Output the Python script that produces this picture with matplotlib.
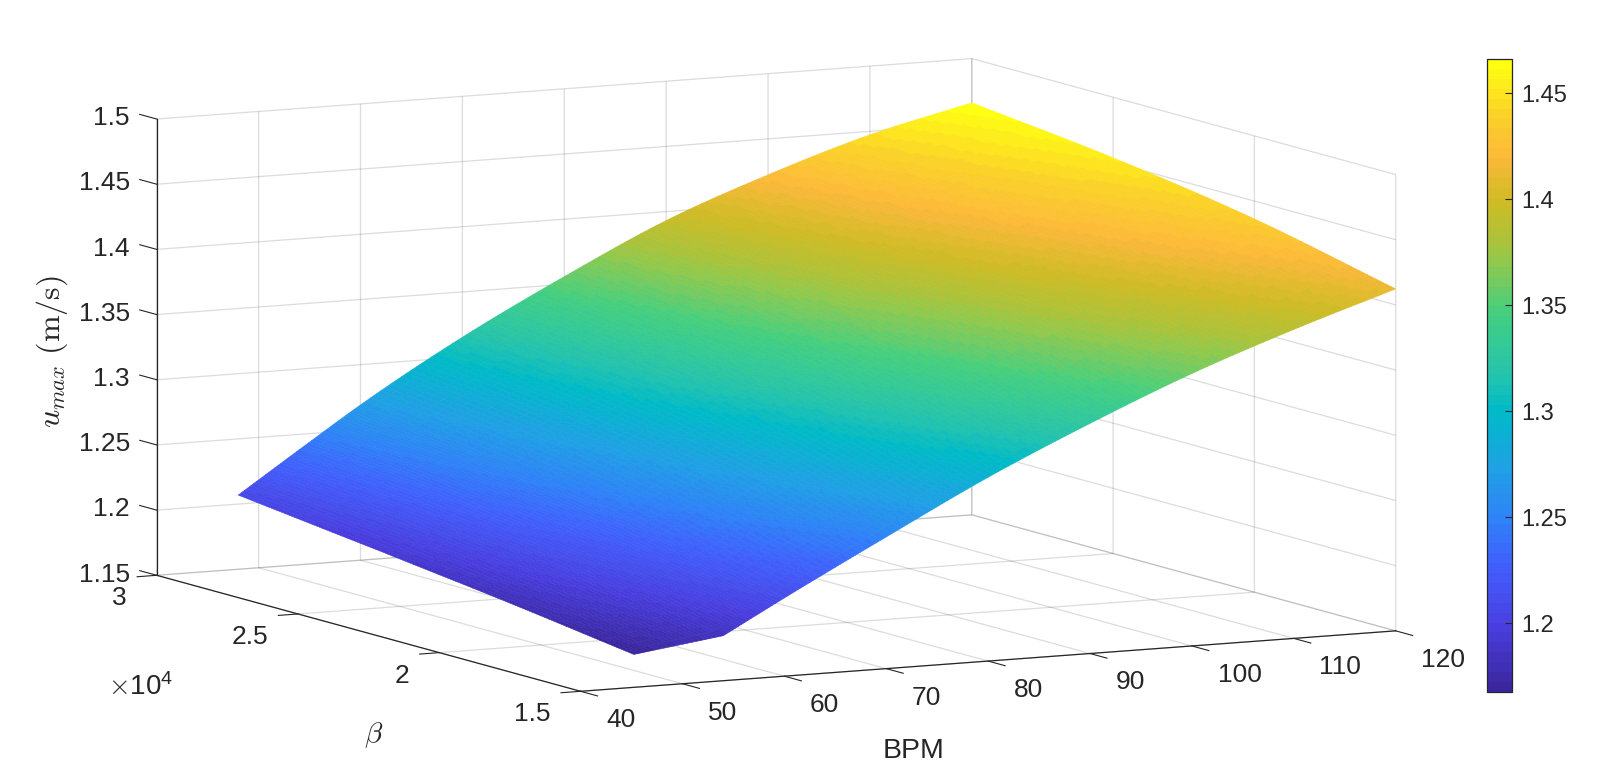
import numpy as np
import matplotlib
matplotlib.use("Agg")
import matplotlib.pyplot as plt
from matplotlib.colors import LinearSegmentedColormap, Normalize
from matplotlib.cm import ScalarMappable
from matplotlib.transforms import ScaledTranslation
from mpl_toolkits.mplot3d import proj3d

# ---- data ----
bpm_cols = [48, 54, 60, 70, 80, 90, 100, 110, 120]
beta_rows = [1.5e4, 2.0e4, 2.5e4, 3.0e4]
beta_first_col = [1.6e4, 2.05e4, 2.5e4, 3.0e4]
u_beta_15 = [1.1677, 1.1845, 1.2100, 1.2510, 1.2910, 1.3265, 1.3590, 1.3870, 1.4123]
u_beta_20 = [1.1814, 1.2093, 1.2364, 1.2796, 1.3201, 1.3563, 1.3873, 1.4138, 1.4363]
u_beta_25 = [1.1938, 1.2274, 1.2560, 1.3009, 1.3417, 1.3784, 1.4085, 1.4338, 1.4535]
u_beta_30 = [1.2069, 1.2383, 1.2691, 1.3152, 1.3559, 1.3931, 1.4224, 1.4473, 1.4660]

x_ticks = [40, 50, 60, 70, 80, 90, 100, 110, 120]
y_ticks = [1.5e4, 2e4, 2.5e4, 3e4]
y_ticklabels = ["1.5", "2", "2.5", "3"]
z_ticks = [1.15, 1.2, 1.25, 1.3, 1.35, 1.4, 1.45, 1.5]
z_ticklabels = ["1.15", "1.2", "1.25", "1.3", "1.35", "1.4", "1.45", "1.5"]
cbar_ticks = [1.2, 1.25, 1.3, 1.35, 1.4, 1.45]
cbar_labels = ["1.2", "1.25", "1.3", "1.35", "1.4", "1.45"]
c_min, c_max = 1.1677, 1.4661

cmap_pos = [0, .10, .20, .27, .35, .443, .50, .60, .68, .72, .78, .85, .92, 1]
cmap_col = ["#3a27a0", "#4a3fe0", "#4061fd", "#2f82f7", "#20a0e5", "#00bac8", "#25c3ac",
            "#44cf80", "#8fc94f", "#aec237", "#cfbb24", "#fcb93a", "#fbd228", "#ffff10"]

W, H = 1600, 776
plt.rcParams["font.family"] = ["Liberation Sans", "DejaVu Sans"]
plt.rcParams["mathtext.fontset"] = "cm"
INK = "#262626"
GRID = (0.15, 0.15, 0.15, 0.16)

fig = plt.figure(figsize=(W / 100, H / 100), dpi=100)
ax = fig.add_axes([0, (H - W) / 2 / H, 1, W / H], projection="3d", proj_type="ortho")
ax.patch.set_alpha(0)
ax.view_init(elev=8.19, azim=-117.5)
ax.set_xlim(40, 120, view_margin=0)
ax.set_ylim(1.5e4, 3e4, view_margin=0)
ax.set_zlim(1.15, 1.5, view_margin=0)
aspect = (919, 918, 461)

cmap = LinearSegmentedColormap.from_list("par", list(zip(cmap_pos, cmap_col)), N=64)
norm = Normalize(c_min, c_max)


# shading-interp style subdivision of each table cell, as the original renderer does:
# positions are straight within a cell, the height runs smoothly through the readings
def subdivide_linear(M, nr=15, nc=20):
    M = np.asarray(M, float)
    rr = np.linspace(0, M.shape[0] - 1, (M.shape[0] - 1) * nr + 1)
    cc = np.linspace(0, M.shape[1] - 1, (M.shape[1] - 1) * nc + 1)
    A = np.array([np.interp(cc, np.arange(M.shape[1]), row) for row in M])
    return np.array([np.interp(rr, np.arange(M.shape[0]), col) for col in A.T]).T


def hermite(v, b, n):
    v = np.asarray(v, float)
    b = np.asarray(b, float)
    s = np.gradient(v, b)
    t = np.linspace(0, 1, n, endpoint=False)
    out = []
    for i in range(len(v) - 1):
        h = b[i + 1] - b[i]
        out.extend((2 * t**3 - 3 * t**2 + 1) * v[i] + (t**3 - 2 * t**2 + t) * h * s[i]
                   + (-2 * t**3 + 3 * t**2) * v[i + 1] + (t**3 - t**2) * h * s[i + 1])
    out.append(v[-1])
    return np.array(out)


def smooth_row(vals, nc=20):
    v = np.asarray(vals, float)
    first = np.linspace(v[0], v[1], nc, endpoint=False)
    return np.concatenate([first, hermite(v[1:], bpm_cols[1:], nc)])


U = np.array([smooth_row(r) for r in (u_beta_15, u_beta_20, u_beta_25, u_beta_30)])
BP = np.tile(bpm_cols, (len(beta_rows), 1)).astype(float)
BE = np.tile(np.array(beta_rows)[:, None], (1, len(bpm_cols))).astype(float)
BE[:, 0] = beta_first_col
X, Y = subdivide_linear(BP), subdivide_linear(BE)
Z = np.array([hermite(c, beta_rows, 15) for c in U.T]).T
surf = ax.plot_surface(X, Y, Z, rcount=Z.shape[0], ccount=Z.shape[1], cmap=cmap, norm=norm,
                       linewidth=0.4, antialiased=True, shade=False)
surf.set_edgecolor("face")

ax.set_xticks(x_ticks)
ax.set_xticklabels([str(v) for v in x_ticks], ha="left")
ax.set_yticks(y_ticks)
ax.set_yticklabels(y_ticklabels, ha="right")
ax.set_zticks(z_ticks)
ax.set_zticklabels(z_ticklabels, ha="right")
ax.tick_params(labelsize=19, labelcolor=INK, color=INK, width=0.8)

for a in (ax.xaxis, ax.yaxis, ax.zaxis):
    a.set_pane_color((1, 1, 1, 0))
    a.pane.set_edgecolor((1, 1, 1, 0))
    a.line.set_color(INK)
    a.line.set_linewidth(0.9)
    a._axinfo["grid"].update(color=GRID, linewidth=0.9, linestyle="-")
    a._axinfo["tick"]["inward_factor"] = 0.0
ax.zaxis.set_ticks_position("upper")
ax.zaxis._get_tickdir = lambda pos: 1
ax.xaxis._axinfo["tick"]["outward_factor"] = -0.5
ax.yaxis._axinfo["tick"]["outward_factor"] = -0.3
ax.zaxis._axinfo["tick"]["outward_factor"] = 0.5


def shift_labels(axis, dx, dy):
    orig = axis.get_major_ticks
    off = ScaledTranslation(dx / 100, -dy / 100, fig.dpi_scale_trans)

    def patched(numticks=None):
        ticks = orig(numticks)
        for t in ticks:
            t.label1.set_transform(ax.transData + off)
        return ticks
    axis.get_major_ticks = patched


shift_labels(ax.xaxis, 17.5, 6.0)
shift_labels(ax.yaxis, -14.3, 1.2)
shift_labels(ax.zaxis, -3, -11.7)


# ---- fit the box to the reference frame ----
def px(p):
    ax.M = ax.get_proj()
    xx, yy, _ = proj3d.proj_transform(p[0], p[1], p[2], ax.M)
    d = ax.transData.transform((xx, yy))
    return d[0], H - d[1]


zoom = 1.0
ax.set_box_aspect(aspect, zoom=zoom)
fig.canvas.draw()
a0 = px((40, 3e4, 1.15))
a1 = px((120, 1.5e4, 1.15))
zoom *= (1395.7 - 156.7) / (a1[0] - a0[0])
ax.set_box_aspect(aspect, zoom=zoom)
fig.canvas.draw()
a0 = px((40, 3e4, 1.15))
ax.set_position([(156.7 - a0[0]) / W, (H - W) / 2 / H + (a0[1] - 575.3) / H, 1, W / H])

# ---- labels ----
fig.text(914 / W, 1 - 751 / H, "BPM", fontsize=20.5, color=INK, ha="center", va="center")
fig.text(374 / W, 1 - 735 / H, r"$\beta$", fontsize=21, color=INK, ha="center", va="center")
fig.text(52 / W, 1 - 352 / H, r"$u_{max}\ \mathrm{(m/s)}$", fontsize=23, color=INK,
         rotation=90, ha="center", va="center")
fig.text(141 / W, 1 - 687 / H, r"$\times\mathregular{10^4}$", fontsize=20, color=INK,
         ha="center", va="center")

# ---- colorbar ----
cax = fig.add_axes([1486.7 / W, 1 - 691.7 / H, 25 / W, 632.5 / H])
cb = fig.colorbar(ScalarMappable(norm=norm, cmap=cmap), cax=cax)
cb.set_ticks(cbar_ticks)
cb.set_ticklabels(cbar_labels)
cax.tick_params(direction="in", length=5, width=0.8, color=INK, labelcolor=INK,
                labelsize=17, pad=7)
cb.outline.set_edgecolor(INK)
cb.outline.set_linewidth(0.9)

fig.savefig("out.png", dpi=100)
